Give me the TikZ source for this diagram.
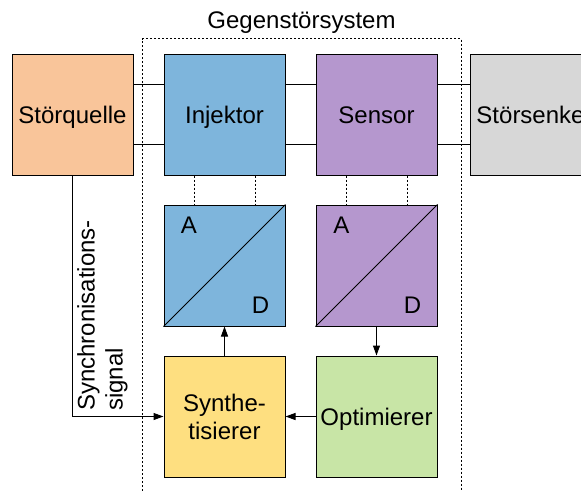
\documentclass[tikz,border=0pt]{standalone}
\usepackage{fontspec}
\setmainfont{Liberation Sans}
\usetikzlibrary{arrows.meta}
\definecolor{cpeach}{RGB}{249,197,154}
\definecolor{cblue}{RGB}{126,181,220}
\definecolor{cpurple}{RGB}{181,151,206}
\definecolor{cgray}{RGB}{215,215,215}
\definecolor{cyellow}{RGB}{254,223,128}
\definecolor{cgreen}{RGB}{200,229,166}
\begin{document}
\begin{tikzpicture}[x=1pt,y=-1pt,
  bigfont/.style={font=\fontsize{24}{28}\selectfont},
  box/.style={draw=black, line width=1pt, minimum width=121pt, minimum height=121pt,
    inner sep=0pt, bigfont, text height=17.2pt, text depth=0pt},
  box2/.style={draw=black, line width=1pt, minimum width=121pt, minimum height=121pt,
    inner sep=0pt, bigfont, align=center},
  conn/.style={draw=black, line width=1pt},
  dotline/.style={draw=black, line width=1pt, dash pattern=on 2pt off 2pt},
  arr/.style={draw=black, line width=1pt, -{Triangle[length=10pt,width=7pt]}},
  adlbl/.style={bigfont, anchor=base, inner sep=0pt}
]
\useasboundingbox (0,0) rectangle (581,490);
\clip (0,0) rectangle (581,490);

% frame
\coordinate (fbl) at (142.5,495);
\coordinate (ftl) at (142.5,38.5);
\coordinate (ftr) at (461,38.5);
\coordinate (fbr) at (461,495);
\draw[dotline] (fbl) -- (ftl) -- (ftr) -- (fbr);
\node[bigfont, anchor=base, inner sep=0pt] (title) at (301.5,28) {Gegenstörsystem};

% main row
\node[box, fill=cpeach] (sq) at (72.5,114.5) {Störquelle};
\node[box, fill=cblue] (inj) at (224.5,114.5) {Injektor};
\node[box, fill=cpurple] (sen) at (376.5,114.5) {Sensor};
\node[box, fill=cgray] (ss) at (530.5,114.5) {Störsenke};

% AD converters
\node[box, fill=cblue] (adc1) at (224.5,265.5) {};
\node[box, fill=cpurple] (adc2) at (376.5,265.5) {};
\draw[conn] (adc1.south west) -- (adc1.north east);
\draw[conn] (adc2.south west) -- (adc2.north east);
\node[adlbl] (a1) at ([xshift=25.5pt,yshift=-29pt]adc1.north west) {A};
\node[adlbl] (d1) at ([xshift=-25pt,yshift=13pt]adc1.south east) {D};
\node[adlbl] (a2) at ([xshift=26pt,yshift=-29pt]adc2.north west) {A};
\node[adlbl] (d2) at ([xshift=-25pt,yshift=13pt]adc2.south east) {D};

% bottom row
\node[box2, fill=cyellow] (syn) at (224.5,416.5) {Synthe-\\tisierer};
\node[box, fill=cgreen] (opt) at (376.5,416.5) {Optimierer};

% horizontal connectors
\foreach \s in {30.5,-29.5}{
  \draw[conn] ([yshift=\s pt]sq.east) -- ([yshift=\s pt]inj.west);
  \draw[conn] ([yshift=\s pt]inj.east) -- ([yshift=\s pt]sen.west);
  \draw[conn] ([yshift=\s pt]sen.east) -- ([yshift=\s pt]ss.west);
}

% dotted links
\foreach \s in {-30.5,30.5}{
  \draw[dotline] ([xshift=\s pt]inj.south) -- ([xshift=\s pt]adc1.north);
  \draw[dotline] ([xshift=\s pt]sen.south) -- ([xshift=\s pt]adc2.north);
}

% arrows
\draw[arr] (syn.north) -- (adc1.south);
\draw[arr] (adc2.south) -- (opt.north);
\draw[arr] (opt.west) -- (syn.east);
\draw[arr] (sq.south) |- (syn.west);

\node[bigfont, rotate=90, anchor=north west, align=left, inner sep=0pt] (synclbl)
  at (77,411) {Synchronisations-\\signal};
\end{tikzpicture}
\end{document}
